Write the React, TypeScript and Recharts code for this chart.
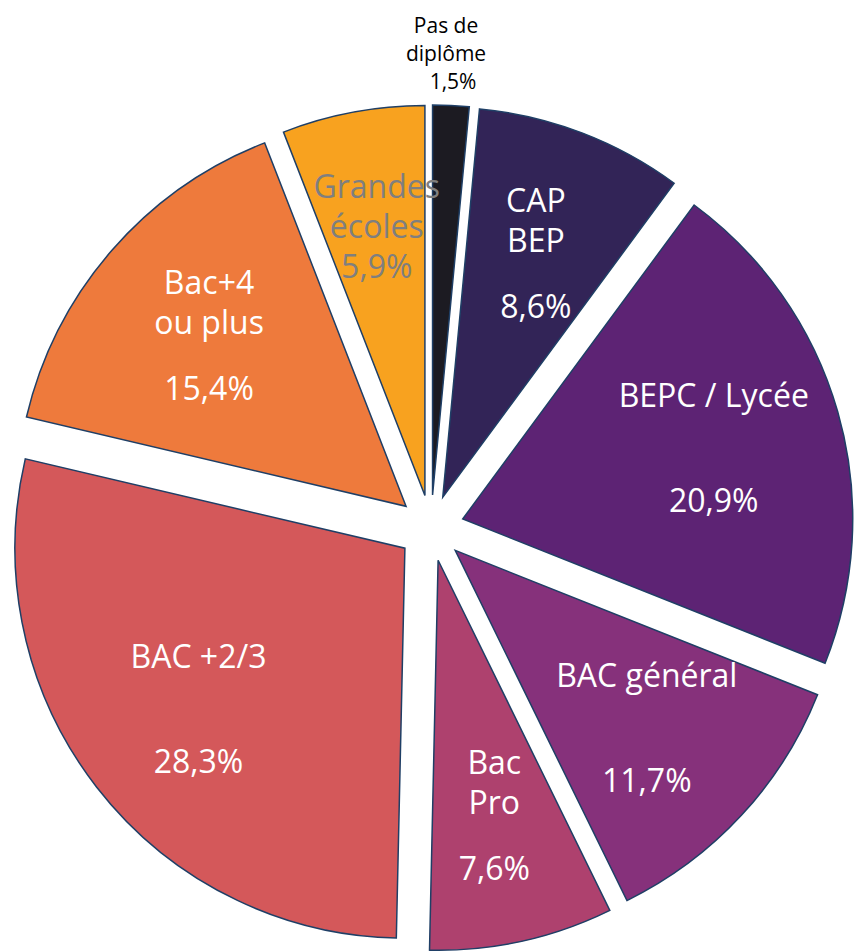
import React from 'react';
import { PieChart, Pie, Cell, Sector } from 'recharts';

// parts of the population by highest diploma, clockwise from 12 o'clock
const CATEGORIES = [
  'Pas de diplôme',
  'CAP BEP',
  'BEPC / Lycée',
  'BAC général',
  'Bac Pro',
  'BAC +2/3',
  'Bac+4 ou plus',
  'Grandes écoles',
];
const LABEL_LINES = [
  ['Pas de', 'diplôme'],
  ['CAP', 'BEP'],
  ['BEPC / Lycée'],
  ['BAC général'],
  ['Bac', 'Pro'],
  ['BAC +2/3'],
  ['Bac+4', 'ou plus'],
  ['Grandes', 'écoles'],
];
const SHARES = [1.5, 8.6, 20.9, 11.7, 7.6, 28.3, 15.4, 5.9];

const COLORS = ['#1c1b22', '#322457', '#5d2374', '#86317b', '#ae416e', '#d4585a', '#ee7a3c', '#f8a21f'];

const data = CATEGORIES.map((name, i) => ({ name, value: SHARES[i] }));

const RAD = Math.PI / 180;
const EXPLODE = 33;
const FONT = '"Open Sans", sans-serif';

const fmtPct = (v: number) => `${v.toFixed(1).replace('.', ',')}%`;

function ExplodedSector(props: any) {
  const { cx, cy, midAngle, innerRadius, outerRadius, startAngle, endAngle, fill } = props;
  const dx = EXPLODE * Math.cos(-midAngle * RAD);
  const dy = EXPLODE * Math.sin(-midAngle * RAD);
  return (
    <Sector
      cx={cx + dx}
      cy={cy + dy}
      innerRadius={innerRadius}
      outerRadius={outerRadius}
      startAngle={startAngle}
      endAngle={endAngle}
      fill={fill}
      stroke="#1f3f66"
      strokeWidth={1.5}
    />
  );
}

function renderLabel(props: any) {
  const { cx, cy, midAngle, outerRadius, index } = props;
  const names = LABEL_LINES[index];
  const outside = index === 0;
  const grey = index === 7;

  const r = outside ? outerRadius + 78 : outerRadius * 0.754;
  const x = cx + r * Math.cos(-midAngle * RAD);
  const y = cy + r * Math.sin(-midAngle * RAD);

  const lineGap = outside ? 28 : 40;
  const pctGap = outside ? 28 : grey ? 40 : names.length === 1 ? 105 : 66;
  const baselines: number[] = [];
  names.forEach((_, i) => baselines.push(i * lineGap));
  baselines.push(baselines[baselines.length - 1] + pctGap);
  const shift = outside ? 0 : grey ? -1 : 12;
  const top = y + shift - baselines[baselines.length - 1] / 2;
  const nameDx = outside ? -7 : 0;

  const lines = [...names, fmtPct(SHARES[index])];
  return (
    <text
      textAnchor="middle"
      fontFamily={FONT}
      fontSize={outside ? 21 : 32}
      fill={outside ? '#000000' : grey ? '#7f7f7f' : '#ffffff'}
    >
      {lines.map((t, i) => (
        <tspan key={i} x={i < names.length ? x + nameDx : x} y={top + baselines[i]}>
          {t}
        </tspan>
      ))}
    </text>
  );
}

export default function App() {
  return (
    <div style={{ position: 'absolute', left: 0, top: 0, background: '#ffffff' }}>
      <PieChart width={859} height={951} margin={{ top: 0, right: 0, bottom: 0, left: 0 }}>
        <Pie
          data={data}
          dataKey="value"
          nameKey="name"
          cx={431}
          cy={528}
          outerRadius={390}
          startAngle={90}
          endAngle={-270}
          stroke="#1f3f66"
          strokeWidth={1.5}
          isAnimationActive={false}
          labelLine={false}
          label={renderLabel}
          shape={ExplodedSector}
          activeShape={ExplodedSector}
          inactiveShape={ExplodedSector}
        >
          {data.map((d, i) => (
            <Cell key={d.name} fill={COLORS[i]} />
          ))}
        </Pie>
      </PieChart>
    </div>
  );
}
